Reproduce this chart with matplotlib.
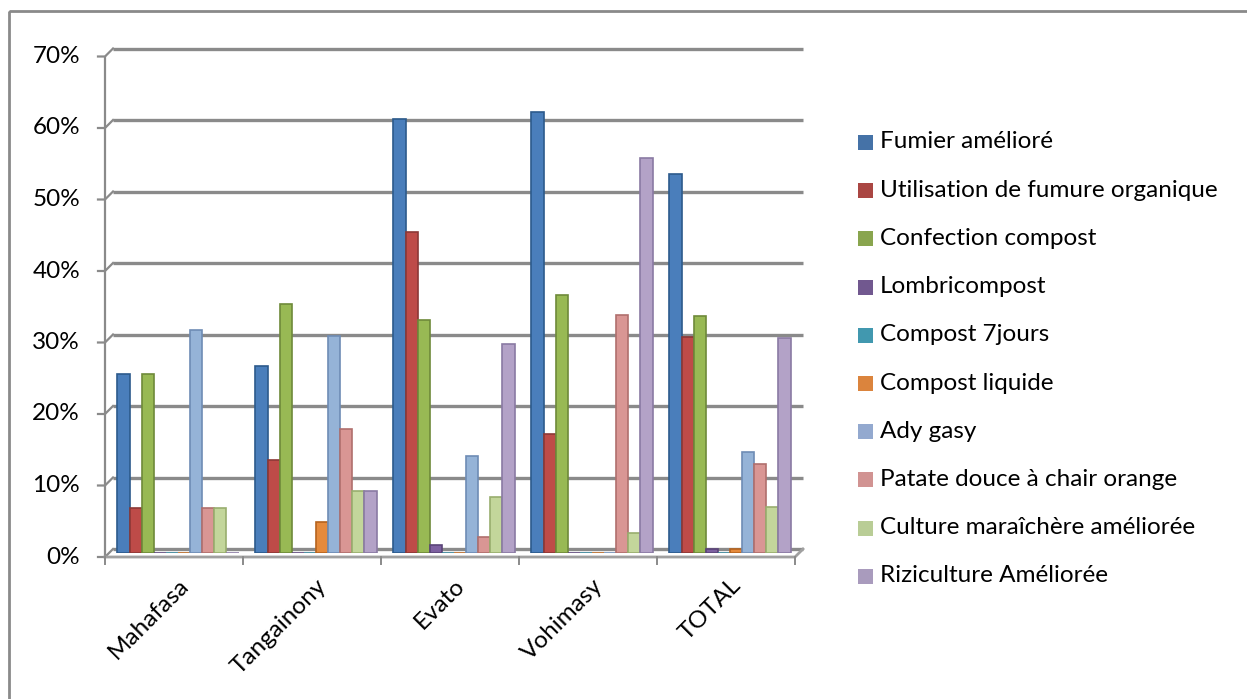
import numpy as np
import matplotlib
matplotlib.use('Agg')
import matplotlib.pyplot as plt
from matplotlib.patches import Rectangle

plt.rcParams['font.family'] = ['Lato', 'DejaVu Sans']

# ---- data ----
sites = ['Mahafasa', 'Tangainony', 'Evato', 'Vohimasy', 'TOTAL']
series = ['Fumier amélioré', 'Utilisation de fumure organique', 'Confection compost',
          'Lombricompost', 'Compost 7jours', 'Compost liquide', 'Ady gasy',
          'Patate douce à chair orange', 'Culture maraîchère améliorée',
          'Riziculture Améliorée']
fumier = [0.250, 0.261, 0.607, 0.617, 0.530]
utilisation = [0.0625, 0.130, 0.449, 0.167, 0.302]
confection = [0.250, 0.348, 0.326, 0.361, 0.331]
lombri = [0.0, 0.0, 0.011, 0.0, 0.006]
compost7 = [0.0, 0.0, 0.0, 0.0, 0.0]
liquide = [0.0, 0.043, 0.0, 0.0, 0.006]
ady = [0.3125, 0.304, 0.135, 0.0, 0.141]
patate = [0.0625, 0.174, 0.022, 0.333, 0.124]
culture = [0.0625, 0.087, 0.079, 0.028, 0.065]
rizi = [0.0, 0.087, 0.292, 0.553, 0.301]
values = [fumier, utilisation, confection, lombri, compost7, liquide, ady,
          patate, culture, rizi]
yticks = [0, 0.1, 0.2, 0.3, 0.4, 0.5, 0.6, 0.7]

colors = ['#4A7EBB', '#BE4B48', '#98B954', '#7D60A0', '#46AAC5', '#E58A3C',
          '#95B3D7', '#D99694', '#C3D69B', '#B3A2C7']
edges = ['#2C5A8C', '#8C3836', '#6E8A3A', '#5A4478', '#2F7E94', '#B5631E',
         '#6E8CB5', '#B06F6D', '#98AE6E', '#8A7AA3']
leg_colors = ['#4572A7', '#AA4643', '#89A54E', '#71588F', '#4198AF', '#DB843D',
              '#93A9CF', '#D19392', '#B9CD96', '#A99BBD']

W, H = 1247, 699
fig = plt.figure(figsize=(W / 100, H / 100), dpi=100)
fs = 17.5

# pixel geometry of the plot (mid-depth of the 3D box)
x0, x1 = 109, 799
y_zero, px_per_unit = 553, 715
depth = 4

# background layer in pixel coordinates for walls/gridlines
bg = fig.add_axes([0, 0, 1, 1])
bg.set_xlim(0, W)
bg.set_ylim(H, 0)
bg.axis('off')

def ypx(v):
    return y_zero - v * px_per_unit

grid_c = '#8a8a8a'
for v in yticks:
    yb = ypx(v) - depth
    yf = ypx(v) + depth
    bg.plot([x0 + depth, x1 + depth], [yb, yb], color=grid_c, lw=2.4,
            solid_capstyle='butt')
    bg.plot([x0 - depth - 7, x0 - depth, x0 + depth], [yf, yf, yb],
            color=grid_c, lw=1.6)
    bg.text(80, yf, f'{int(round(v * 100))}%', ha='right', va='center',
            fontsize=fs, color='#000000')

# front axis and floor
bg.plot([x0 - depth, x0 - depth], [ypx(0.7) + depth, ypx(0) + depth],
        color=grid_c, lw=1.6)
bg.plot([x0 - depth, x1 - depth, x1 + depth], [ypx(0) + depth, ypx(0) + depth, ypx(0) - depth],
        color='#a0a0a0', lw=2.0)
cat_w = (x1 - x0) / len(sites)
for i in range(len(sites) + 1):
    xt = x0 - depth + i * cat_w
    bg.plot([xt, xt], [ypx(0) + depth, ypx(0) + depth + 7], color=grid_c, lw=1.4)

# outer border
bg.add_patch(Rectangle((9, 11), W, H, fill=False, edgecolor='#8a8a8a', lw=2))

# bars
ax = fig.add_axes([x0 / W, (H - y_zero) / H, (x1 - x0) / W, 0.7 * px_per_unit / H])
ax.patch.set_alpha(0)
ax.set_xlim(-0.5, len(sites) - 0.5)
ax.set_ylim(0, 0.7)
ax.axis('off')

n = len(series)
bw = 0.877 / n
x = np.arange(len(sites))
for k in range(n):
    pos = x - 0.877 / 2 + bw * (k + 0.5)
    ax.bar(pos, values[k], width=bw, color=colors[k], edgecolor=edges[k],
           linewidth=1.2)

# category labels
for i, s in enumerate(sites):
    xc = x0 - depth + (i + 0.5) * cat_w + 4
    bg.text(xc, 575, s, rotation=45, ha='right', va='top', rotation_mode='anchor',
            fontsize=fs, color='#000000')

# legend
for k, name in enumerate(series):
    yl = 142 + k * 48.2
    bg.add_patch(Rectangle((858, yl - 7), 15, 15, facecolor=leg_colors[k],
                           edgecolor='none'))
    bg.text(880, yl, name, ha='left', va='center', fontsize=fs, color='#000000')

fig.savefig('out.png', dpi=100)
